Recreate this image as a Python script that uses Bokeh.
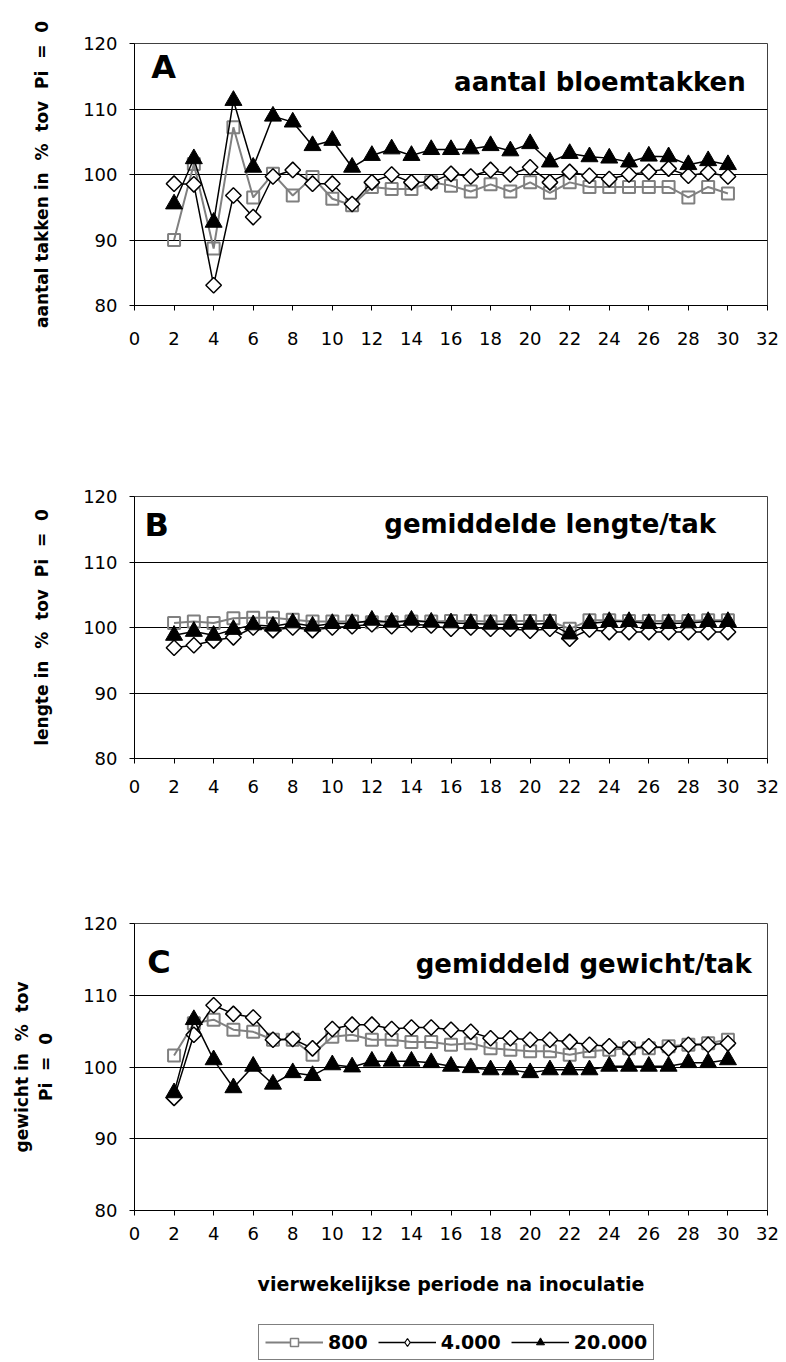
from bokeh.plotting import figure
from bokeh.models import Range1d, FixedTicker, Label, Legend, LegendItem
from bokeh.layouts import column
from bokeh.embed import file_html
from bokeh.resources import INLINE
import numpy as np

# ---------------- data ----------------
periods = list(range(2, 31))
x_ticks = list(range(0, 33, 2))
y_ticks = [80, 90, 100, 110, 120]
series_names = ["800", "4.000", "20.000"]

a_800 = [90.0, 101.6, 88.7, 107.2, 96.5, 100.1, 96.8, 99.6, 96.3, 95.3, 98.1, 97.8, 97.8, 98.8, 98.3,
         97.4, 98.5, 97.4, 98.8, 97.2, 98.8, 98.1, 98.1, 98.1, 98.1, 98.1, 96.5, 98.1, 97.1]
a_4000 = [98.6, 98.5, 83.1, 96.8, 93.5, 99.7, 100.7, 98.6, 98.6, 95.5, 98.8, 100.0, 98.8, 98.8, 100.1,
          99.7, 100.7, 100.0, 101.1, 98.8, 100.4, 99.8, 99.3, 100.0, 100.4, 100.9, 99.8, 100.3, 99.7]
a_20000 = [95.5, 102.4, 92.7, 111.3, 101.1, 108.9, 108.0, 104.4, 105.2, 101.1, 102.9, 103.9, 102.9, 103.8, 103.8,
           103.9, 104.4, 103.6, 104.7, 101.9, 103.2, 102.7, 102.5, 101.9, 102.8, 102.7, 101.5, 102.1, 101.5]

b_800 = [100.7, 100.9, 100.7, 101.4, 101.5, 101.5, 101.2, 100.9, 100.9, 100.9, 100.8, 100.8, 100.9, 100.9, 101.0,
         101.0, 100.9, 101.0, 101.0, 101.0, 99.8, 101.1, 101.1, 101.0, 101.0, 101.0, 101.0, 101.1, 101.1]
b_4000 = [96.9, 97.3, 98.0, 98.5, 100.0, 99.6, 100.0, 99.6, 100.0, 100.2, 100.5, 100.2, 100.5, 100.3, 99.8,
          100.0, 99.8, 99.8, 99.5, 99.8, 98.3, 99.7, 99.3, 99.3, 99.3, 99.3, 99.3, 99.3, 99.3]
b_20000 = [98.8, 99.4, 98.8, 99.7, 100.4, 100.2, 100.7, 100.2, 100.6, 100.6, 101.1, 100.8, 101.1, 100.8, 100.7,
           100.6, 100.5, 100.5, 100.5, 100.6, 99.0, 100.6, 100.9, 100.9, 100.6, 100.6, 100.7, 100.9, 100.9]

c_800 = [101.6, 106.1, 106.6, 105.2, 104.9, 103.8, 103.8, 101.7, 104.2, 104.5, 103.8, 103.8, 103.5, 103.5, 103.1,
         103.3, 102.6, 102.4, 102.2, 102.2, 101.7, 102.2, 102.4, 102.6, 102.6, 102.9, 103.1, 103.3, 103.8]
c_4000 = [95.7, 104.5, 108.6, 107.4, 106.9, 103.8, 103.9, 102.6, 105.3, 105.9, 105.9, 105.3, 105.5, 105.5, 105.2,
          104.9, 104.0, 104.0, 103.8, 103.8, 103.5, 103.1, 102.9, 102.6, 102.9, 102.6, 103.1, 103.1, 103.3]
c_20000 = [96.4, 106.6, 101.0, 97.1, 100.1, 97.6, 99.2, 98.8, 100.3, 100.0, 100.8, 100.8, 100.8, 100.6, 100.1,
           99.9, 99.6, 99.6, 99.2, 99.6, 99.6, 99.6, 100.1, 100.1, 100.1, 100.1, 100.6, 100.6, 101.0]

FONT = "DejaVu Sans"
NB = "\u00a0"

GRAY = "#808080"


def make_panel(height, left, top, frame_w, frame_h, ylabel, letter, title, s800, s4000, s20000,
               letter_pos, title_pos, tick_standoff, xlabel=None, ylabel_standoff=28):
    p = figure(width=786, height=height, output_backend="svg", toolbar_location=None,
               x_range=Range1d(0, 32), y_range=Range1d(80, 120))
    p.min_border_left = left
    p.min_border_right = 786 - left - frame_w
    p.min_border_top = top
    p.min_border_bottom = height - top - frame_h
    p.background_fill_color = "white"
    p.border_fill_color = "white"
    p.outline_line_color = "#404040"
    p.outline_line_width = 1

    p.xaxis.ticker = FixedTicker(ticks=x_ticks)
    p.yaxis.ticker = FixedTicker(ticks=y_ticks)
    p.xgrid.visible = False
    p.ygrid.ticker = FixedTicker(ticks=y_ticks)
    p.ygrid.grid_line_color = "black"
    p.ygrid.grid_line_width = 1
    for ax in (p.xaxis, p.yaxis):
        ax.axis_line_color = "black"
        ax.major_tick_line_color = "black"
        ax.major_tick_in = 0
        ax.major_tick_out = 5
        ax.minor_tick_line_color = None
        ax.major_label_text_font = FONT
        ax.major_label_text_font_size = "18px"
        ax.major_label_text_color = "black"
        ax.axis_label_text_font = FONT
        ax.axis_label_text_font_style = "bold"
        ax.axis_label_text_font_size = "17px"
        ax.axis_label_text_color = "black"
    p.xaxis.major_label_standoff = tick_standoff
    p.yaxis.major_label_standoff = 12
    p.yaxis.axis_label = ylabel
    p.yaxis.axis_label_standoff = ylabel_standoff
    if xlabel:
        p.xaxis.axis_label = xlabel
        p.xaxis.axis_label_standoff = 30
        p.xaxis.axis_label_text_font_size = "19px"

    p.line(periods, s800, line_color=GRAY, line_width=2)
    p.scatter(periods, s800, marker="square", size=12, line_color=GRAY, line_width=2, fill_alpha=0)
    p.line(periods, s4000, line_color="black", line_width=1.5)
    p.scatter(periods, s4000, marker="square", angle=np.pi / 4, size=11, line_color="black",
              line_width=1.5, fill_color="white")
    p.line(periods, s20000, line_color="black", line_width=1.5)
    p.scatter(periods, s20000, marker="triangle", size=17, line_color="black", fill_color="black")

    p.add_layout(Label(x=letter_pos[0], y=letter_pos[1], text=letter, text_font=FONT,
                       text_font_style="bold", text_font_size="32px", text_baseline="middle",
                       text_align="left", text_color="black"))
    p.add_layout(Label(x=title_pos[0], y=title_pos[1], text=title, text_font=FONT,
                       text_font_style="bold", text_font_size="26px", text_baseline="middle",
                       text_align="right", text_color="black"))
    return p


ylab_a = "aantal takken in" + NB + " %" + NB + " tov" + NB + " Pi" + NB + " =" + NB + " 0"
ylab_b = "lengte in" + NB + " %" + NB + " tov" + NB + " Pi" + NB + " =" + NB + " 0"
ylab_c = "gewicht in" + NB + " %" + NB + " tov\nPi" + NB + " =" + NB + " 0"

pA = make_panel(470, 134, 43, 634, 262, ylab_a, "A", "aantal bloemtakken",
                a_800, a_4000, a_20000, (0.85, 116.4), (30.9, 114.1), 21)
pB = make_panel(420, 131, 26, 636, 262, ylab_b, "B", "gemiddelde lengte/tak",
                b_800, b_4000, b_20000, (0.5, 115.6), (29.4, 115.8), 16)
pC = make_panel(427, 124, 33, 648, 287, ylab_c, "C", "gemiddeld gewicht/tak",
                c_800, c_4000, c_20000, (0.65, 114.6), (31.2, 114.4), 11,
                xlabel="vierwekelijkse periode na inoculatie", ylabel_standoff=24)

# legend strip: the C series again, kept outside this strip's view so only the legend shows
pL = figure(width=786, height=45, output_backend="svg", toolbar_location=None,
            x_range=Range1d(0, 1), y_range=Range1d(0, 1),
            x_axis_location=None, y_axis_location=None)
pL.min_border_left = 134
pL.min_border_right = 18
pL.min_border_top = 0
pL.min_border_bottom = 0
pL.outline_line_color = None
pL.grid.visible = False
pL.background_fill_color = "white"
pL.border_fill_color = "white"

l1 = pL.line(periods, c_800, line_color=GRAY, line_width=2)
m1 = pL.scatter(periods, c_800, marker="square", size=9, line_color=GRAY, line_width=1.5,
                fill_color="white")
l2 = pL.line(periods, c_4000, line_color="black", line_width=1.5)
m2 = pL.scatter(periods, c_4000, marker="diamond", size=13, line_color="black",
                line_width=1.2, fill_color="white")
l3 = pL.line(periods, c_20000, line_color="black", line_width=1.5)
m3 = pL.scatter(periods, c_20000, marker="triangle", size=13, line_color="black", fill_color="black")

items = [LegendItem(label=series_names[0], renderers=[l1, m1]),
         LegendItem(label=series_names[1], renderers=[l2, m2]),
         LegendItem(label=series_names[2], renderers=[l3, m3])]
legend = Legend(items=items, orientation="horizontal", location=(124, 2))
legend.label_text_font = FONT
legend.label_text_font_style = "bold"
legend.label_text_font_size = "19px"
legend.label_text_color = "black"
legend.glyph_width = 58
legend.glyph_height = 20
legend.label_standoff = 5
legend.spacing = 10
legend.padding = 6
legend.margin = 0
legend.border_line_color = "black"
legend.border_line_width = 1
legend.background_fill_color = "white"
pL.add_layout(legend)

layout = column(pA, pB, pC, pL)
open("out.html", "w").write(file_html(layout, INLINE))
